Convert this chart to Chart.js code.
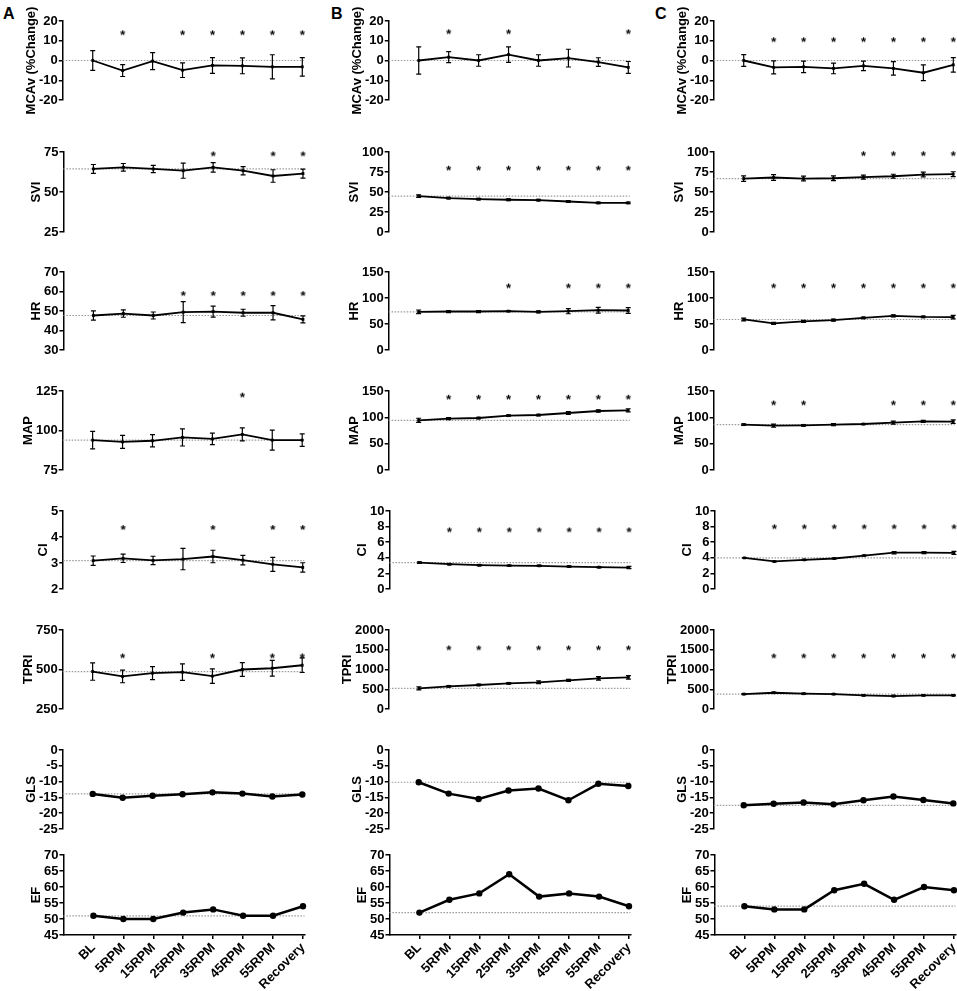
<!DOCTYPE html>
<html lang="en">

<head>
    <meta charset="UTF-8">
    <title>Hemodynamic and cardiac responses</title>
    <script src="https://cdn.jsdelivr.net/npm/chart.js@4.4.1/dist/chart.umd.min.js"></script>
    <style>
        body { margin: 0; background: #fff; }
        #page { position: relative; width: 957px; height: 991px; overflow: hidden;
                font-family: 'Liberation Sans', Arial, sans-serif; }
        .panel { position: absolute; }
        .letter { position: absolute; font-weight: bold; font-size: 16px; line-height: 16px; color: #000; }
    </style>
</head>

<body>
    <div id="page">
        <div class="letter" style="left: 3px; top: 6px;">A</div>
        <div class="letter" style="left: 331px; top: 6px;">B</div>
        <div class="letter" style="left: 655px; top: 6px;">C</div>
    </div>
    <script>
        const categories = ['BL', '5RPM', '15RPM', '25RPM', '35RPM', '45RPM', '55RPM', 'Recovery'];
        const rowTitles = ['MCAv (%Change)', 'SVI', 'HR', 'MAP', 'CI', 'TPRI', 'GLS', 'EF'];

        // tick labels
        const ticksMcav = [-20, -10, 0, 10, 20];
        const ticksSviA = [25, 50, 75];
        const ticksSvi = [0, 25, 50, 75, 100];
        const ticksHrA = [30, 40, 50, 60, 70];
        const ticksHr = [0, 50, 100, 150];
        const ticksMapA = [75, 100, 125];
        const ticksMap = [0, 50, 100, 150];
        const ticksCiA = [2, 3, 4, 5];
        const ticksCi = [0, 2, 4, 6, 8, 10];
        const ticksTpriA = [250, 500, 750];
        const ticksTpri = [0, 500, 1000, 1500, 2000];
        const ticksGls = [-25, -20, -15, -10, -5, 0];
        const ticksEf = [45, 50, 55, 60, 65, 70];

        // Group A
        const mcavA = [0, -5.1, -0.3, -4.9, -2.5, -2.7, -3.2, -3.2];
        const mcavAErr = [5, 3, 4.3, 3.7, 4, 4, 6.1, 4.7];
        const mcavASig = [0, 1, 0, 1, 1, 1, 1, 1];
        const sviA = [64.4, 65.4, 64.4, 63.3, 65.4, 63.3, 60.0, 61.5];
        const sviAErr = [2.8, 2.4, 2.3, 4.7, 3.0, 2.6, 3.9, 2.8];
        const sviASig = [0, 0, 0, 0, 1, 0, 1, 1];
        const hrA = [47.7, 48.7, 47.7, 49.4, 49.7, 49.1, 49.1, 45.7];
        const hrAErr = [2.4, 1.9, 1.8, 5.4, 2.8, 1.8, 3.7, 1.8];
        const hrASig = [0, 0, 0, 1, 1, 1, 1, 1];
        const mapA = [93.9, 92.8, 93.5, 95.6, 94.7, 97.5, 93.9, 93.9];
        const mapAErr = [5.5, 4.1, 3.9, 5.4, 3.6, 4.1, 6.3, 4.0];
        const mapASig = [0, 0, 0, 0, 0, 1, 0, 0];
        const ciA = [3.09, 3.18, 3.10, 3.15, 3.25, 3.11, 2.95, 2.83];
        const ciAErr = [0.18, 0.16, 0.16, 0.41, 0.24, 0.18, 0.27, 0.18];
        const ciASig = [0, 1, 0, 0, 1, 0, 1, 1];
        const tpriA = [487, 456, 477, 483, 458, 500, 508, 527];
        const tpriAErr = [55, 40, 41, 52, 46, 44, 50, 46];
        const tpriASig = [0, 1, 0, 0, 1, 0, 1, 1];
        const glsA = [-13.9, -15.1, -14.5, -14.0, -13.4, -13.8, -14.7, -14.1];
        const efA = [51, 50, 50, 52, 53, 51, 51, 54];

        // Group B
        const mcavB = [0, 1.7, 0, 3.0, 0, 1.2, -0.8, -3.5];
        const mcavBErr = [6.9, 2.8, 2.9, 3.9, 2.9, 4.5, 2.2, 3.0];
        const mcavBSig = [0, 1, 0, 1, 0, 0, 0, 1];
        const sviB = [44.9, 42.4, 41.1, 40.3, 39.8, 38.1, 36.4, 36.4];
        const sviBErr = [1.5, 1, 1, 1, 1, 1, 1, 1];
        const sviBSig = [0, 1, 1, 1, 1, 1, 1, 1];
        const hrB = [73.4, 74, 74, 74.7, 73.4, 74.7, 76.6, 76];
        const hrBErr = [3.5, 2, 2, 1, 2, 5, 5.5, 5.5];
        const hrBSig = [0, 0, 0, 1, 0, 1, 1, 1];
        const mapB = [94.3, 97.5, 98.7, 103.2, 104.4, 108.2, 112, 113.3];
        const mapBErr = [4, 2, 1.5, 1.5, 1.5, 2.5, 2, 3];
        const mapBSig = [0, 1, 1, 1, 1, 1, 1, 1];
        const ciB = [3.39, 3.18, 3.05, 3.0, 2.97, 2.88, 2.8, 2.75];
        const ciBErr = [0.1, 0.08, 0.08, 0.08, 0.08, 0.08, 0.08, 0.15];
        const ciBSig = [0, 1, 1, 1, 1, 1, 1, 1];
        const tpriB = [523, 574, 608, 650, 675, 726, 776, 802];
        const tpriBErr = [40, 20, 20, 20, 35, 25, 45, 45];
        const tpriBSig = [0, 1, 1, 1, 1, 1, 1, 1];
        const glsB = [-10.2, -13.8, -15.5, -12.8, -12.2, -15.9, -10.7, -11.4];
        const efB = [52, 56, 58, 64, 57, 58, 57, 54];

        // Group C
        const mcavC = [0, -3.5, -3.2, -4.0, -2.7, -4.0, -6.2, -2.2];
        const mcavCErr = [3, 3.3, 2.9, 2.7, 2.4, 3.4, 4, 3.7];
        const mcavCSig = [0, 1, 1, 1, 1, 1, 1, 1];
        const sviC = [66.8, 68.1, 66.8, 67.2, 68.5, 69.7, 71.8, 72.3];
        const sviCErr = [3.4, 3.5, 3, 3, 2.5, 2.5, 3, 3];
        const sviCSig = [0, 0, 0, 0, 1, 1, 1, 1];
        const hrC = [58.7, 51.1, 54.9, 57.5, 61.9, 65.8, 63.8, 63.2];
        const hrCErr = [2.5, 2, 2, 2, 1.5, 2, 1.5, 3.5];
        const hrCSig = [0, 1, 1, 1, 1, 1, 1, 1];
        const mapC = [86.1, 84.2, 84.8, 86.1, 87.3, 89.9, 92.4, 91.8];
        const mapCErr = [1.5, 3, 1.5, 2, 1, 3, 2, 3.5];
        const mapCSig = [0, 1, 1, 0, 0, 1, 1, 1];
        const ciC = [3.99, 3.53, 3.74, 3.91, 4.29, 4.66, 4.66, 4.62];
        const ciCErr = [0.05, 0.06, 0.06, 0.06, 0.06, 0.15, 0.12, 0.2];
        const ciCSig = [0, 1, 1, 1, 1, 1, 1, 1];
        const tpriC = [378, 412, 387, 378, 345, 328, 345, 345];
        const tpriCErr = [15, 15, 15, 15, 15, 15, 15, 15];
        const tpriCSig = [0, 1, 1, 1, 1, 1, 1, 1];
        const glsC = [-17.5, -17.0, -16.6, -17.2, -15.9, -14.7, -15.8, -16.9];
        const efC = [54, 53, 53, 59, 61, 56, 60, 59];

        // each column: one entry per row (star = y level of the significance marks)
        const columns = [
            [
                { v: mcavA, err: mcavAErr, sig: mcavASig, ticks: ticksMcav, star: 14.5 },
                { v: sviA, err: sviAErr, sig: sviASig, ticks: ticksSviA, star: 74.4 },
                { v: hrA, err: hrAErr, sig: hrASig, ticks: ticksHrA, star: 59.4 },
                { v: mapA, err: mapAErr, sig: mapASig, ticks: ticksMapA, star: 123 },
                { v: ciA, err: ciAErr, sig: ciASig, ticks: ticksCiA, star: 4.4 },
                { v: tpriA, err: tpriAErr, sig: tpriASig, ticks: ticksTpriA, star: 592 },
                { v: glsA, ticks: ticksGls },
                { v: efA, ticks: ticksEf }
            ],
            [
                { v: mcavB, err: mcavBErr, sig: mcavBSig, ticks: ticksMcav, star: 15 },
                { v: sviB, err: sviBErr, sig: sviBSig, ticks: ticksSvi, star: 81 },
                { v: hrB, err: hrBErr, sig: hrBSig, ticks: ticksHr, star: 125 },
                { v: mapB, err: mapBErr, sig: mapBSig, ticks: ticksMap, star: 140 },
                { v: ciB, err: ciBErr, sig: ciBSig, ticks: ticksCi, star: 7.7 },
                { v: tpriB, err: tpriBErr, sig: tpriBSig, ticks: ticksTpri, star: 1570 },
                { v: glsB, ticks: ticksGls },
                { v: efB, ticks: ticksEf }
            ],
            [
                { v: mcavC, err: mcavCErr, sig: mcavCSig, ticks: ticksMcav, star: 11 },
                { v: sviC, err: sviCErr, sig: sviCSig, ticks: ticksSvi, star: 99 },
                { v: hrC, err: hrCErr, sig: hrCSig, ticks: ticksHr, star: 125 },
                { v: mapC, err: mapCErr, sig: mapCSig, ticks: ticksMap, star: 129 },
                { v: ciC, err: ciCErr, sig: ciCSig, ticks: ticksCi, star: 8.1 },
                { v: tpriC, err: tpriCErr, sig: tpriCSig, ticks: ticksTpri, star: 1367 },
                { v: glsC, ticks: ticksGls },
                { v: efC, ticks: ticksEf }
            ]
        ];

        // layout of the grid (pixels on the page)
        const colAxisX = [63, 389, 714];
        const rowTop = [21, 152, 272, 391, 511, 630, 750, 855];
        const rowBottom = [100, 232, 350, 470, 589, 709, 829, 935];
        const areaWidth = 241;
        const X_MIN = -1, X_MAX = 7.05;

        const font = { family: "'Liberation Sans', Arial, sans-serif", size: 13, weight: 'bold' };
        const titleFont = { family: "'Liberation Sans', Arial, sans-serif", size: 13, weight: 'bold', lineHeight: 1 };

        // small "*" used as point style for the significance marks
        function makeAsterisk() {
            const c = document.createElement('canvas');
            c.width = 9; c.height = 9;
            const g = c.getContext('2d');
            g.fillStyle = '#000';
            g.font = "bold 13px 'Liberation Sans', Arial, sans-serif";
            g.textAlign = 'center';
            g.textBaseline = 'alphabetic';
            g.fillText('*', 4.5, 12);
            return c;
        }
        const asterisk = makeAsterisk();

        // vertical error bars with caps, drawn through the chart's own scales
        const errorBars = {
            id: 'errorBars',
            afterDatasetsDraw(chart) {
                const ctx = chart.ctx;
                const xs = chart.scales.x, ys = chart.scales.y;
                chart.data.datasets.forEach(ds => {
                    if (!ds.errors) return;
                    ctx.save();
                    ctx.strokeStyle = '#000';
                    ctx.lineWidth = 1.2;
                    ds.data.forEach((pt, i) => {
                        const e = ds.errors[i];
                        const x = xs.getPixelForValue(pt.x);
                        const y1 = ys.getPixelForValue(pt.y - e);
                        const y2 = ys.getPixelForValue(pt.y + e);
                        ctx.beginPath();
                        ctx.moveTo(x, y1); ctx.lineTo(x, y2);
                        ctx.moveTo(x - 2.5, y1); ctx.lineTo(x + 2.5, y1);
                        ctx.moveTo(x - 2.5, y2); ctx.lineTo(x + 2.5, y2);
                        ctx.stroke();
                    });
                    ctx.restore();
                });
            }
        };

        const page = document.getElementById('page');

        function makePanel(col, row, p) {
            const isBottom = row === 7;
            const echo = row >= 6; // GLS and EF: bigger dots, no error bars
            const w = 340, h = isBottom ? 200 : 150;

            const wrap = document.createElement('div');
            wrap.className = 'panel';
            const canvas = document.createElement('canvas');
            canvas.width = w; canvas.height = h;
            canvas.style.width = w + 'px'; canvas.style.height = h + 'px';
            wrap.appendChild(canvas);
            page.appendChild(wrap);

            const points = p.v.map((y, i) => ({ x: i, y: y }));
            const datasets = [
                {
                    // dotted baseline at the BL value
                    data: [{ x: X_MIN, y: p.v[0] }, { x: X_MAX, y: p.v[0] }],
                    borderColor: '#9a9a9a', borderWidth: 1.2, borderDash: [1.5, 1.5],
                    pointRadius: 0, order: 3, clip: false
                },
                {
                    data: points,
                    errors: p.err,
                    borderColor: '#000', backgroundColor: '#000',
                    borderWidth: echo ? 2.5 : 1.8,
                    pointStyle: echo ? 'circle' : 'rect',
                    pointRadius: echo ? 3.2 : 2,
                    pointBorderWidth: 0,
                    tension: 0, order: 1, clip: false
                }
            ];
            if (p.sig) {
                datasets.push({
                    data: p.sig.map((s, i) => s ? { x: i, y: p.star } : null).filter(d => d),
                    showLine: false,
                    pointStyle: asterisk, pointRadius: 4,
                    order: 2, clip: false
                });
            }

            const pad = { left: 4, top: 30, right: 30, bottom: 30 };
            const chart = new Chart(canvas, {
                type: 'line',
                data: { datasets },
                options: {
                    responsive: false,
                    animation: false,
                    layout: { padding: pad },
                    plugins: { legend: { display: false }, tooltip: { enabled: false } },
                    scales: {
                        x: {
                            type: 'linear', min: X_MIN, max: X_MAX,
                            display: isBottom,
                            afterBuildTicks: s => { s.ticks = categories.map((c, i) => ({ value: i })); },
                            ticks: {
                                callback: v => categories[v],
                                minRotation: 45, maxRotation: 45, autoSkip: false,
                                font, color: '#000', padding: 1
                            },
                            grid: { drawOnChartArea: false, drawTicks: true, tickLength: 4, color: '#000', lineWidth: 1.5 },
                            border: { display: true, color: '#000', width: 1.5 }
                        },
                        y: {
                            min: p.ticks[0], max: p.ticks[p.ticks.length - 1],
                            afterBuildTicks: s => { s.ticks = p.ticks.map(v => ({ value: v })); },
                            ticks: { callback: v => String(v), font, color: '#000', padding: 1, autoSkip: false },
                            grid: { drawOnChartArea: false, drawTicks: true, tickLength: 4, color: '#000', lineWidth: 1.5 },
                            border: { display: true, color: '#000', width: 1.5 },
                            title: { display: true, text: rowTitles[row], font: titleFont, color: '#000', padding: { top: 0, bottom: 0 } }
                        }
                    }
                },
                plugins: [errorBars]
            });

            // fit the plot area to the grid cell
            let ca = chart.chartArea;
            const areaH = rowBottom[row] - rowTop[row];
            pad.right += (ca.right - ca.left) - areaWidth;
            pad.bottom += (ca.bottom - ca.top) - areaH;
            chart.options.layout.padding = pad;
            chart.update('none');
            ca = chart.chartArea;
            wrap.style.left = (colAxisX[col] - ca.left) + 'px';
            wrap.style.top = (rowTop[row] - ca.top) + 'px';
        }

        columns.forEach((rows, col) => rows.forEach((p, row) => makePanel(col, row, p)));
    </script>
</body>

</html>
